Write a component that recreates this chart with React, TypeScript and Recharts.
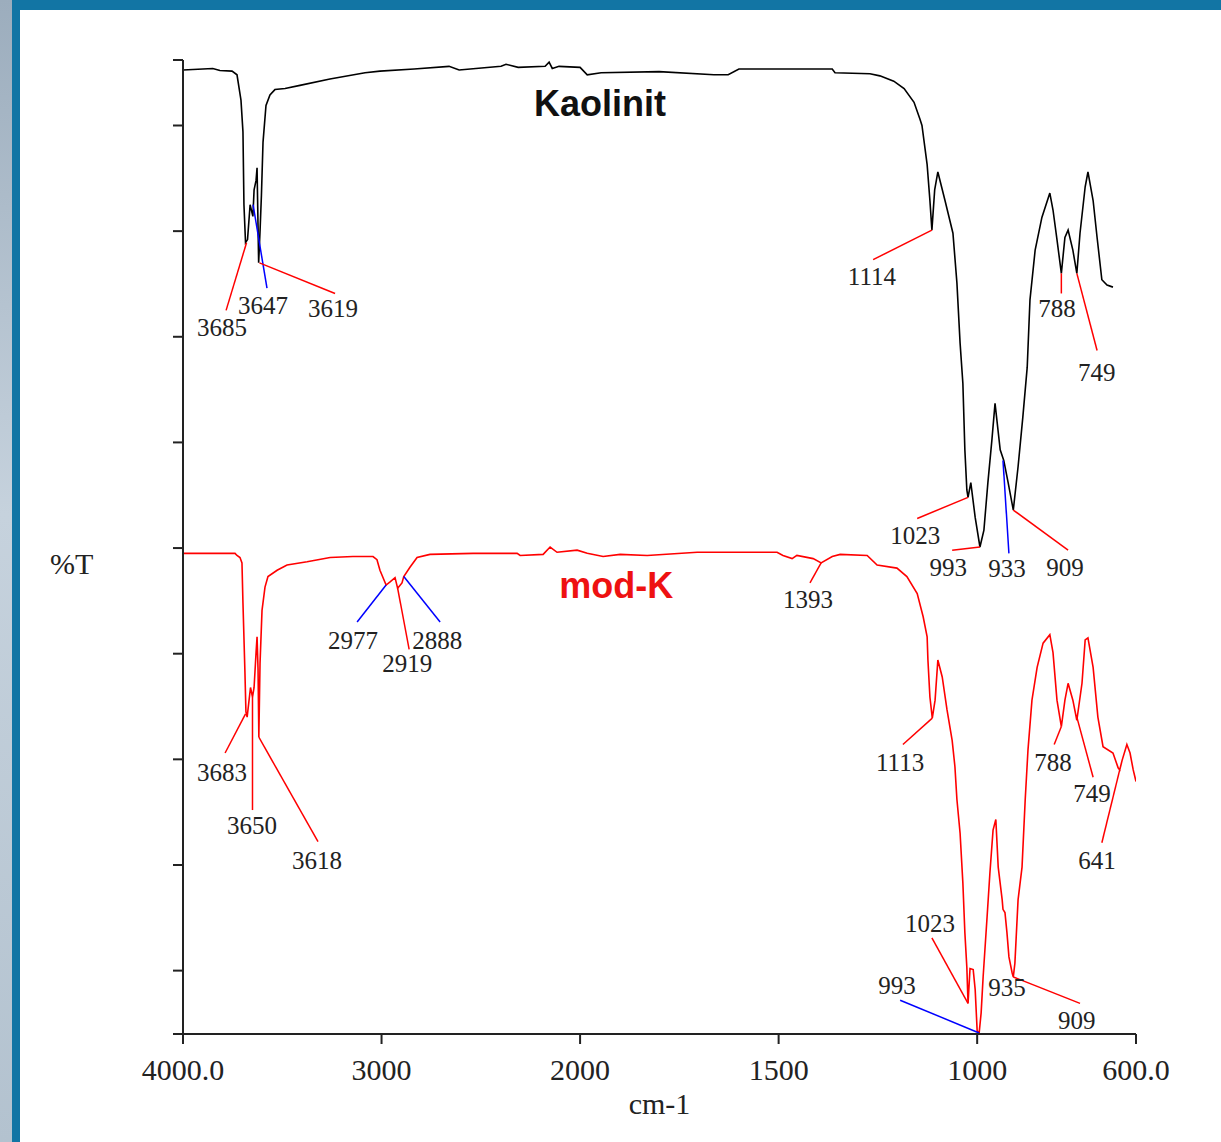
import { LineChart, Line, XAxis, YAxis, ReferenceLine, ReferenceDot } from 'recharts';

// spectra: [wavenumber cm-1, %T]
const kaolinit: [number, number][] = [
  [4000, 91.25], [3850, 91.4], [3814, 91.2], [3753, 91.15], [3728, 90.8], [3708, 88.4],
  [3698, 85.4], [3693, 78.5], [3685, 74.9], [3675, 75.2], [3662, 78.5], [3648, 77.4],
  [3642, 79.9], [3632, 80.8], [3627, 82.0], [3619, 73.0], [3612, 76.0], [3605, 79.4],
  [3597, 84.4], [3582, 87.9], [3562, 88.9], [3537, 89.4], [3486, 89.5], [3411, 89.8],
  [3260, 90.4], [3083, 91.0], [3008, 91.15], [2836, 91.35], [2660, 91.6], [2609, 91.25],
  [2398, 91.6], [2373, 91.8], [2312, 91.5], [2176, 91.6], [2156, 92.0], [2140, 91.4],
  [2106, 91.6], [2000, 91.5], [1982, 90.8], [1947, 91.0], [1801, 91.1], [1663, 90.8],
  [1627, 90.8], [1600, 91.35], [1365, 91.35], [1358, 91.0], [1270, 90.9], [1245, 90.7],
  [1210, 90.2], [1184, 89.5], [1159, 88.2], [1144, 86.6], [1139, 86.0], [1126, 82.3],
  [1119, 78.9], [1114, 76.1], [1107, 79.9], [1099, 81.6], [1081, 78.9], [1061, 75.8],
  [1051, 71.1], [1043, 65.4], [1036, 61.6], [1031, 55.3], [1026, 51.5], [1023, 50.8],
  [1016, 52.2], [1005, 48.9], [993, 46.1], [983, 47.7], [973, 52.2], [963, 56.2],
  [955, 59.7], [942, 55.3], [933, 54.3], [922, 52.2], [909, 49.6], [897, 53.7],
  [885, 58.4], [874, 63.1], [867, 69.5], [854, 74.2], [837, 77.3], [817, 79.6],
  [809, 78.0], [799, 75.2], [788, 72.0], [779, 75.4], [771, 76.1], [759, 74.2],
  [749, 72.0], [741, 75.8], [728, 80.2], [721, 81.6], [708, 78.9], [698, 75.4],
  [686, 71.4], [673, 70.9], [658, 70.7],
];

const modK: [number, number][] = [
  [4000, 45.5], [3738, 45.5], [3728, 45.3], [3713, 45.1], [3703, 44.6], [3698, 40.8],
  [3688, 34.2], [3683, 30.5], [3677, 30.0], [3660, 32.8], [3650, 31.9], [3642, 32.8],
  [3632, 36.1], [3627, 37.6], [3622, 34.5], [3618, 28.1], [3612, 35.1], [3602, 40.1],
  [3587, 42.3], [3572, 43.3], [3526, 43.9], [3476, 44.4], [3375, 44.7], [3259, 45.1],
  [3144, 45.2], [3043, 45.2], [3023, 44.9], [3008, 43.9], [2977, 42.5], [2957, 42.8],
  [2932, 43.2], [2919, 42.2], [2897, 42.7], [2888, 43.3], [2856, 44.2], [2821, 45.1],
  [2756, 45.4], [2539, 45.5], [2317, 45.5], [2302, 45.3], [2186, 45.4], [2151, 46.1],
  [2116, 45.6], [2015, 45.8], [1982, 45.5], [1942, 45.2], [1899, 45.4], [1831, 45.3],
  [1705, 45.6], [1504, 45.6], [1489, 45.3], [1466, 45.0], [1454, 45.3], [1413, 45.0],
  [1393, 44.6], [1365, 45.2], [1345, 45.4], [1277, 45.3], [1252, 44.4], [1202, 44.1],
  [1177, 43.3], [1151, 41.7], [1136, 39.5], [1126, 37.6], [1124, 35.4], [1119, 31.9],
  [1113, 29.9], [1106, 31.6], [1099, 35.4], [1088, 33.8], [1076, 30.7], [1063, 27.8],
  [1056, 25.3], [1051, 22.2], [1043, 19.0], [1036, 14.3], [1031, 9.6], [1026, 6.3],
  [1023, 2.9], [1018, 6.2], [1010, 6.1], [1005, 4.2], [1000, 0.3], [995, 0.1],
  [990, 2.0], [985, 5.4], [975, 11.1], [968, 15.2], [960, 19.3], [953, 20.3],
  [947, 15.8], [937, 12.7], [935, 11.8], [930, 11.5], [925, 9.6], [920, 7.3],
  [912, 5.8], [909, 5.4], [905, 6.7], [897, 12.7], [887, 15.8], [879, 22.2],
  [872, 26.9], [862, 31.6], [849, 34.7], [834, 37.0], [817, 37.8], [809, 36.1],
  [799, 31.6], [788, 29.1], [779, 31.6], [771, 33.2], [759, 31.6], [749, 29.7],
  [736, 33.2], [728, 37.3], [721, 37.5], [708, 34.7], [696, 30.0], [683, 27.2],
  [658, 26.6], [645, 25.2], [641, 25.0], [635, 25.9], [623, 27.4], [615, 26.6],
  [607, 25.0], [600, 23.9],
];

const waveTicks = [4000, 3000, 2000, 1500, 1000, 600];
const waveTickLabels = ['4000.0', '3000', '2000', '1500', '1000', '600.0'];
const percentTicks = [0, 6, 16, 26, 36, 46, 56, 66, 76, 86, 92.2];

// peak callouts in data units: text, leader from peak -> end, text centre
type Callout = { text: string; from?: [number, number]; to?: [number, number]; at: [number, number]; blue?: boolean };

const kaolinitCallouts: Callout[] = [
  { text: '3685', from: [3680, 74.9], to: [3783, 68.5], at: [3804, 66.9] },
  { text: '3647', from: [3647, 78.5], to: [3577, 70.6], at: [3597, 69.0], blue: true },
  { text: '3619', from: [3615, 73.0], to: [3234, 70.1], at: [3244, 68.7] },
  { text: '1114', from: [1114, 76.1], to: [1262, 73.3], at: [1265, 71.7] },
  { text: '1023', from: [1023, 50.8], to: [1151, 48.8], at: [1156, 47.2] },
  { text: '993', from: [993, 46.1], to: [1063, 45.8], at: [1073, 44.2] },
  { text: '933', from: [935, 54.3], to: [920, 45.5], at: [925, 44.1], blue: true },
  { text: '909', from: [909, 49.6], to: [771, 45.8], at: [779, 44.2] },
  { text: '788', from: [788, 72.0], to: [788, 70.1], at: [799, 68.7] },
  { text: '749', from: [749, 72.0], to: [698, 64.7], at: [699, 62.7] },
];

const modKCallouts: Callout[] = [
  { text: '3683', from: [3685, 30.3], to: [3788, 26.6], at: [3804, 24.8] },
  { text: '3650', from: [3650, 31.9], to: [3650, 21.2], at: [3652, 19.8] },
  { text: '3618', from: [3618, 28.1], to: [3320, 18.2], at: [3325, 16.5] },
  { text: '2977', from: [2977, 42.5], to: [3123, 39.0], at: [3144, 37.3], blue: true },
  { text: '2919', from: [2919, 42.2], to: [2861, 36.4], at: [2871, 35.1] },
  { text: '2888', from: [2888, 43.3], to: [2705, 39.0], at: [2720, 37.3], blue: true },
  { text: '1393', from: [1393, 44.6], to: [1421, 42.7], at: [1426, 41.2] },
  { text: '1113', from: [1113, 29.9], to: [1187, 27.4], at: [1194, 25.7] },
  { text: '1023', from: [1023, 2.9], to: [1114, 9.1], at: [1119, 10.5] },
  { text: '993', from: [995, 0.1], to: [1194, 3.2], at: [1202, 4.6], blue: true },
  { text: '935', at: [925, 4.4] },
  { text: '909', from: [909, 5.4], to: [741, 2.9], at: [749, 1.3] },
  { text: '788', from: [788, 29.1], to: [806, 27.4], at: [809, 25.7] },
  { text: '749', from: [749, 30.0], to: [708, 24.3], at: [711, 22.8] },
  { text: '641', from: [641, 25.0], to: [686, 18.1], at: [698, 16.5] },
];

// the instrument halves the scale above 2000 cm-1
const toAxis = (wn: number) => (wn > 2000 ? 2000 + (wn - 2000) / 2 : wn);

const SERIF = '"Liberation Serif", "Times New Roman", serif';
const SANS = '"Liberation Sans", Arial, sans-serif';
const INK = '#222';

const kaolinitData = kaolinit.map(([w, t]) => ({ u: toAxis(w), t }));
const modKData = modK.map(([w, t]) => ({ u: toAxis(w), t }));
const axisTicks = waveTicks.map(toAxis);

function renderCallouts(list: Callout[], key: string) {
  const out: JSX.Element[] = [];
  list.forEach((c, i) => {
    if (c.from && c.to) {
      out.push(
        <ReferenceLine
          key={`${key}-l${i}`}
          segment={[
            { x: toAxis(c.from[0]), y: c.from[1] },
            { x: toAxis(c.to[0]), y: c.to[1] },
          ]}
          stroke={c.blue ? '#0000ff' : '#ff0000'}
          strokeWidth={1.5}
          ifOverflow="visible"
        />
      );
    }
    out.push(
      <ReferenceDot
        key={`${key}-t${i}`}
        x={toAxis(c.at[0])}
        y={c.at[1]}
        r={0}
        fill="none"
        stroke="none"
        ifOverflow="visible"
        label={{ value: c.text, position: 'center', fill: INK, fontSize: 25, fontFamily: SERIF }}
      />
    );
  });
  return out;
}

export default function App() {
  return (
    <div
      style={{
        position: 'absolute',
        left: 0,
        top: 0,
        width: 1221,
        height: 1142,
        overflow: 'hidden',
        background: 'linear-gradient(180deg, #9cadbd 0%, #c6d2dd 45%, #b3c2cf 100%)',
      }}
    >
      <div
        style={{
          position: 'absolute',
          left: 12,
          top: 0,
          right: 0,
          bottom: 0,
          background: '#fff',
          borderLeft: '8px solid #1275a4',
          borderTop: '10px solid #1275a4',
          boxSizing: 'border-box',
        }}
      />
      <div style={{ position: 'absolute', left: 50, top: 549, fontFamily: SERIF, fontSize: 30, lineHeight: '30px', color: INK }}>
        %T
      </div>
      <div style={{ position: 'absolute', left: 0, top: 0 }}>
        <LineChart width={1221} height={1142} margin={{ top: 60, right: 85, bottom: 58, left: 123 }}>
          <XAxis
            type="number"
            dataKey="u"
            domain={[600, 3000]}
            reversed
            allowDataOverflow
            ticks={axisTicks}
            interval={0}
            tickFormatter={(u: number) => waveTickLabels[axisTicks.indexOf(u)]}
            height={50}
            tickSize={10}
            tickMargin={15}
            axisLine={{ stroke: INK, strokeWidth: 2 }}
            tickLine={{ stroke: INK, strokeWidth: 2 }}
            tick={{ fill: INK, fontSize: 30, fontFamily: SERIF }}
            label={{ value: 'cm-1', position: 'bottom', offset: 9, fill: INK, fontSize: 30, fontFamily: SERIF }}
          />
          <YAxis
            type="number"
            domain={[0, 92.2]}
            allowDataOverflow
            ticks={percentTicks}
            interval={0}
            width={60}
            tickFormatter={() => ''}
            tickSize={10}
            axisLine={{ stroke: INK, strokeWidth: 2 }}
            tickLine={{ stroke: INK, strokeWidth: 2 }}
          />
          <Line
            data={kaolinitData}
            dataKey="t"
            type="linear"
            stroke="#000"
            strokeWidth={1.6}
            dot={false}
            activeDot={false}
            isAnimationActive={false}
          />
          <Line
            data={modKData}
            dataKey="t"
            type="linear"
            stroke="#ff0000"
            strokeWidth={1.6}
            dot={false}
            activeDot={false}
            isAnimationActive={false}
          />
          {renderCallouts(kaolinitCallouts, 'k')}
          {renderCallouts(modKCallouts, 'm')}
          <ReferenceDot
            x={toAxis(1950)}
            y={88.1}
            r={0}
            fill="none"
            stroke="none"
            label={{ value: 'Kaolinit', position: 'center', fill: '#111', fontSize: 36, fontWeight: 700, fontFamily: SANS }}
          />
          <ReferenceDot
            x={toAxis(1909)}
            y={42.5}
            r={0}
            fill="none"
            stroke="none"
            label={{ value: 'mod-K', position: 'center', fill: '#ee1111', fontSize: 36, fontWeight: 700, fontFamily: SANS }}
          />
        </LineChart>
      </div>
    </div>
  );
}
